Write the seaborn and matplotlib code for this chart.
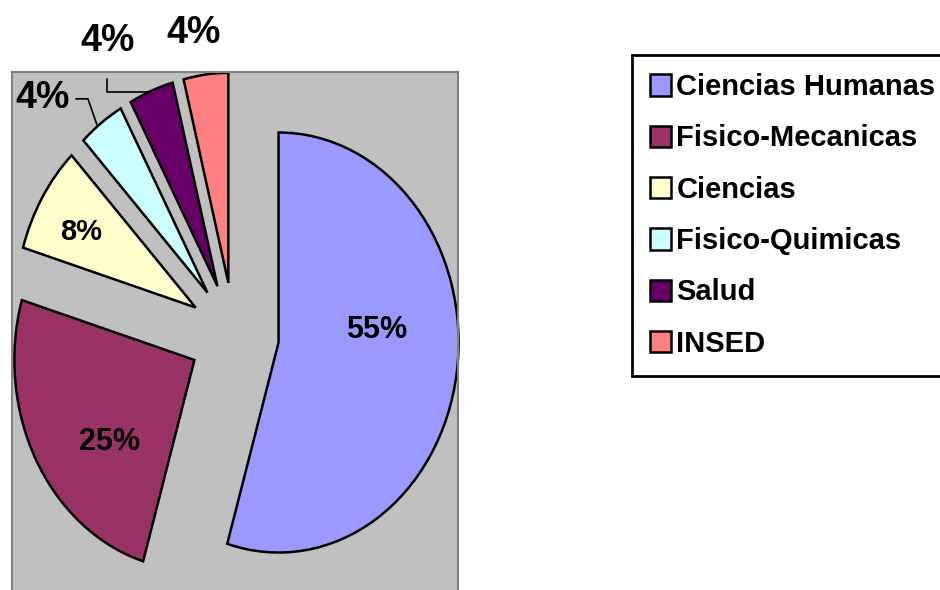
import matplotlib
matplotlib.use("Agg")
import matplotlib.pyplot as plt
import matplotlib.patches as mpatches
import seaborn as sns

categories = ["Ciencias Humanas", "Fisico-Mecanicas", "Ciencias", "Fisico-Quimicas", "Salud", "INSED"]
values = [54.6, 25.0, 8.3, 4.1, 4.0, 4.0]
colors = ["#9999FF", "#993366", "#FFFFCC", "#CCFFFF", "#660066", "#FF8080"]

sns.set_theme(style="white")
plt.rcParams['font.family'] = ['Liberation Sans', 'DejaVu Sans']
plt.rcParams['font.weight'] = 'bold'
plt.rcParams['text.color'] = 'black'

fig = plt.figure(figsize=(9.4, 5.9), dpi=100)
ax = fig.add_axes([12/940, 1 - 600/590, 446/940, 528/590])

wedges, _ = ax.pie(values, colors=colors, startangle=90, counterclock=False,
                   explode=[0.25]*len(values),
                   wedgeprops=dict(edgecolor='black', linewidth=1.8, joinstyle='miter'))
ax.set_aspect('auto')
ax.set_frame_on(True)
ax.set_xlim(-1.233, 1.244)
ax.set_ylim(-1.262, 1.252)
ax.set_facecolor('#C0C0C0')
for s in ax.spines.values():
    s.set_edgecolor('#808080')
    s.set_linewidth(1.5)
ax.set_xticks([]); ax.set_yticks([])

total = sum(values)
pcts = [f"{v/total*100:.0f}%" for v in values]
label_pos = [(0.794, 0.024), (-0.689, -0.512), (-0.85, 0.488),
             (-1.064, 1.129), (-0.703, 1.40), (-0.222, 1.44)]
label_size = [22, 22, 21, 27, 27, 27]
for p, (x, y), fs in zip(pcts, label_pos, label_size):
    ax.text(x, y, p, ha='center', va='center', fontsize=fs, fontweight='bold',
            color='black', clip_on=False)

# leader lines
ax.plot([-0.706, -0.706, -0.483], [1.219, 1.157, 1.157], color='black', lw=1.2, clip_on=False)
ax.plot([-0.878, -0.811, -0.761], [1.124, 1.124, 1.0], color='black', lw=1.2, clip_on=False)

handles = [mpatches.Patch(facecolor=c, edgecolor='black', linewidth=1.8) for c in colors]
leg = fig.legend(handles, categories, loc='upper left',
                 bbox_to_anchor=(632/940, 1 - 55/590, (960-632)/940, 0.0),
                 mode='expand', fontsize=21, frameon=True, fancybox=False, framealpha=1,
                 borderaxespad=0, borderpad=0.62, labelspacing=0.8,
                 handlelength=0.7, handleheight=0.75, handletextpad=0.2)
leg.get_frame().set_edgecolor('black')
leg.get_frame().set_linewidth(2)
for t in leg.get_texts():
    t.set_fontweight('bold')
    t.set_color('black')

fig.savefig("out.png", dpi=100)
